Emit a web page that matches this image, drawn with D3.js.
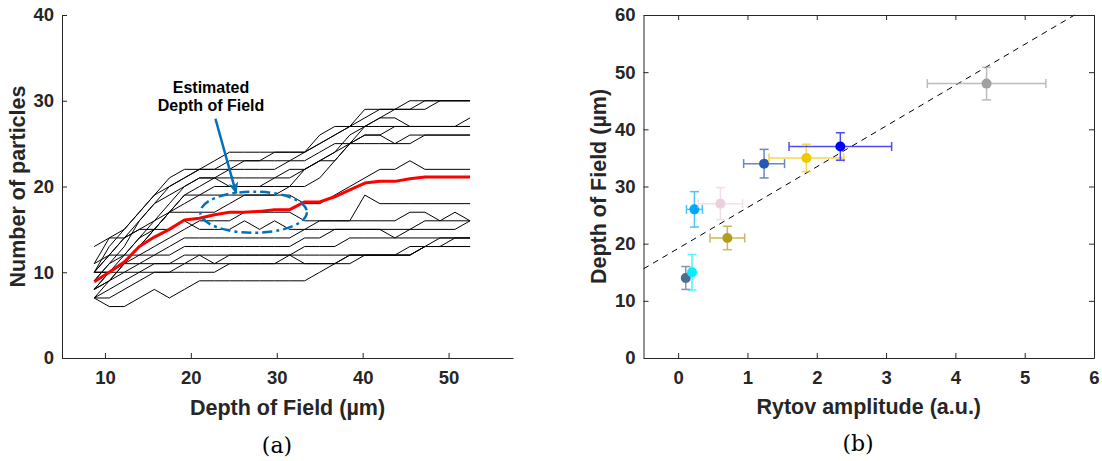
<html lang="en">
<head>
    <meta charset="UTF-8">
    <title>Depth of field vs Rytov amplitude</title>
    <style>
        body { margin: 0; background: #fff; }
        text { font-family: "Liberation Sans", Arial, sans-serif; }
    </style>
</head>
<body>
<script src="https://d3js.org/d3.v7.min.js"></script>
<svg id="fig"></svg>
<script>
    // ---- data, panel (a) ----
    var dofSteps = [8.75, 10.5, 12.25, 14, 15.75, 17.5, 19.25, 21, 22.75, 24.5, 26.25, 28, 29.75,
                    31.5, 33.25, 35, 36.75, 38.5, 40.25, 42, 43.75, 45.5, 47.25, 49, 50.75, 52.5];
    var particleCounts = [
        [11,14,15,17,19,20,21,22,23,24,24,24,24,24,24,25,26,27,29,29,29,29,30,30,30,30],
        [10,12,14,16,18,20,21,22,22,23,23,23,24,24,24,25,26,27,28,29,29,30,30,30,30,30],
        [10,13,15,17,19,21,22,22,22,22,22,22,22,23,24,26,27,27,27,28,29,29,29,30,30,30],
        [9,11,13,16,18,19,20,21,21,22,23,23,23,23,23,24,25,25,27,28,28,27,27,27,27,28],
        [10,12,14,15,16,17,19,20,21,21,21,21,21,21,22,23,24,26,27,27,27,27,27,27,27,27],
        [8,10,12,14,16,18,20,21,21,20,20,20,21,22,22,23,23,25,26,26,27,27,27,27,27,27],
        [8,10,11,13,15,17,19,19,20,20,20,20,20,20,22,23,24,25,26,26,25,26,26,26,26,26],
        [9,11,12,14,15,17,18,19,19,19,19,19,19,20,20,21,23,25,25,25,25,25,26,26,26,26],
        [8,9,11,13,15,17,17,17,17,18,19,19,19,19,18,18,19,20,21,22,22,23,22,22,22,22],
        [7,9,11,12,13,14,15,16,16,16,17,17,17,17,16,16,16,16,19,18,18,18,18,18,18,18],
        [13,14,14,15,15,15,16,15,15,15,16,15,16,15,15,16,16,16,16,16,16,17,17,16,17,16],
        [10,10,11,11,12,13,14,14,14,14,14,14,14,14,15,15,15,15,15,15,15,15,16,16,16,16],
        [11,12,12,12,12,12,13,13,13,13,13,13,13,13,14,14,15,15,15,15,14,15,15,15,15,16],
        [8,9,10,11,11,11,12,12,12,12,12,12,12,12,13,13,13,14,14,14,14,14,14,14,14,14],
        [10,10,10,10,10,10,11,11,11,11,11,11,11,12,12,12,12,12,12,12,12,13,13,14,14,14],
        [7,8,9,10,11,11,11,12,11,12,12,12,12,12,11,11,11,12,12,12,12,12,13,13,14,14],
        [7,7,8,9,10,10,10,10,10,11,11,11,11,11,11,11,11,11,12,12,12,12,13,13,13,13],
        [7,6,6,7,8,7,8,9,9,9,9,9,9,9,9,10,11,12,12,12,12,12,13,13,13,13]
    ];
    var meanCounts = [8.9, 10, 11.2, 13, 14.1, 15, 16.1, 16.3, 16.7, 17, 17, 17.1, 17.3,
                      17.3, 18.2, 18.2, 18.8, 19.6, 20.4, 20.6, 20.6, 20.9, 21.1, 21.1, 21.1, 21.1];
    var ticksA_x = [10, 20, 30, 40, 50];
    var ticksA_y = [0, 10, 20, 30, 40];

    // ---- data, panel (b) ----
    var rytovAmp = [0.11, 0.2, 0.235, 0.61, 0.71, 1.24, 1.85, 2.34, 4.45];
    var rytovErr = [0.03, 0.03, 0.115, 0.32, 0.25, 0.295, 0.54, 0.74, 0.855];
    var dofValue = [14, 15, 26, 27, 21, 34, 35, 37, 48];
    var dofErr = [2, 3.1, 3.1, 2.8, 2.05, 2.5, 2.4, 2.4, 2.85];
    var pointColors = ["#4a6f91", "#00f0ff", "#00a8ff", "#eecfe0", "#b39b1d",
                       "#2757b4", "#efc800", "#0000ff", "#a0a0a0"];
    var fitX = [-0.5, 5.72];
    var fitY = [15.6, 60];
    var ticksB_x = [0, 1, 2, 3, 4, 5, 6];
    var ticksB_y = [0, 10, 20, 30, 40, 50, 60];

    var axisColor = "#262626";
    var svg = d3.select("#fig")
        .attr("width", 1102)
        .attr("height", 461);
    svg.append("rect").attr("width", 1102).attr("height", 461).attr("fill", "#fff");

    function styleAxis(g) {
        g.select(".domain").attr("stroke", axisColor);
        g.selectAll(".tick line").attr("stroke", axisColor);
        g.selectAll(".tick text")
            .attr("fill", axisColor)
            .style("font-size", "18.5px")
            .style("font-weight", "bold");
    }

    // ================= panel (a) =================
    var a = {left: 62, right: 513, top: 15, bottom: 358};
    var xA = d3.scaleLinear().domain([5, 57.5]).range([a.left, a.right]);
    var yA = d3.scaleLinear().domain([0, 40]).range([a.bottom, a.top]);

    var panelA = svg.append("g");

    var line = d3.line()
        .x(function(d, i) { return xA(dofSteps[i]); })
        .y(function(d) { return yA(d); });

    panelA.append("g")
        .selectAll("path")
        .data(particleCounts)
        .enter().append("path")
            .attr("d", line)
            .attr("fill", "none")
            .attr("stroke", "#000")
            .attr("stroke-width", 1);

    panelA.append("path")
        .attr("d", line(meanCounts))
        .attr("fill", "none")
        .attr("stroke", "#ff0000")
        .attr("stroke-width", 3)
        .attr("stroke-linejoin", "round");

    // annotation: ellipse + arrow + text
    var blue = "#0072bd";
    panelA.append("ellipse")
        .attr("cx", xA(27.3))
        .attr("cy", yA(17))
        .attr("rx", xA(27.3 + 6.2) - xA(27.3))
        .attr("ry", yA(17) - yA(17 + 2.4))
        .attr("fill", "none")
        .attr("stroke", blue)
        .attr("stroke-width", 2.5)
        .attr("stroke-dasharray", "10,4,3,4");

    svg.append("defs").append("marker")
        .attr("id", "head")
        .attr("markerUnits", "userSpaceOnUse")
        .attr("viewBox", "0 0 12 10")
        .attr("refX", 11).attr("refY", 5)
        .attr("markerWidth", 12).attr("markerHeight", 10)
        .attr("orient", "auto")
        .append("path")
            .attr("d", "M0,0 L12,5 L0,10 L3,5 Z")
            .attr("fill", blue);

    panelA.append("line")
        .attr("x1", xA(22.86)).attr("y1", yA(27.9))
        .attr("x2", xA(25.28)).attr("y2", yA(19.2))
        .attr("stroke", blue)
        .attr("stroke-width", 2.5)
        .attr("marker-end", "url(#head)");

    panelA.append("text")
        .attr("x", 211).attr("y", 87)
        .attr("dy", "0.35em")
        .attr("text-anchor", "middle")
        .style("font-size", "16px").style("font-weight", "bold")
        .text("Estimated");
    panelA.append("text")
        .attr("x", 211).attr("y", 105)
        .attr("dy", "0.35em")
        .attr("text-anchor", "middle")
        .style("font-size", "16px").style("font-weight", "bold")
        .text("Depth of Field");

    // axes (only left + bottom, ticks pointing inward)
    panelA.append("g")
        .attr("transform", `translate(0, ${a.bottom})`)
        .call(d3.axisBottom(xA).tickValues(ticksA_x).tickSizeInner(-5).tickSizeOuter(0).tickPadding(13))
        .call(styleAxis);
    panelA.append("g")
        .attr("transform", `translate(${a.left}, 0)`)
        .call(d3.axisLeft(yA).tickValues(ticksA_y).tickSizeInner(-5).tickSizeOuter(0).tickPadding(8))
        .call(styleAxis);

    panelA.append("text")
        .attr("x", (a.left + a.right) / 2).attr("y", 407)
        .attr("dy", "0.35em")
        .attr("text-anchor", "middle")
        .attr("fill", axisColor)
        .style("font-size", "21.5px").style("font-weight", "bold")
        .text("Depth of Field (µm)");
    panelA.append("text")
        .attr("transform", `translate(17, ${(a.top + a.bottom) / 2}) rotate(-90)`)
        .attr("dy", "0.35em")
        .attr("text-anchor", "middle")
        .attr("fill", axisColor)
        .style("font-size", "21.5px").style("font-weight", "bold")
        .text("Number of particles");

    // ================= panel (b) =================
    var b = {left: 643.5, right: 1094, top: 15, bottom: 358};
    var xB = d3.scaleLinear().domain([-0.5, 6]).range([b.left, b.right]);
    var yB = d3.scaleLinear().domain([0, 60]).range([b.bottom, b.top]);

    var panelB = svg.append("g");

    panelB.append("path")
        .attr("d", d3.line().x(function(d, i) { return xB(fitX[i]); }).y(function(d) { return yB(d); })(fitY))
        .attr("fill", "none")
        .attr("stroke", "#000")
        .attr("stroke-width", 1)
        .attr("stroke-dasharray", "6,5");

    var cap = 4.5;
    var pts = panelB.selectAll("g.pt")
        .data(rytovAmp)
        .enter().append("g")
            .attr("class", "pt");

    pts.each(function(d, i) {
        var g = d3.select(this);
        var cx = xB(d), cy = yB(dofValue[i]);
        var x0 = xB(d - rytovErr[i]), x1 = xB(d + rytovErr[i]);
        var y0 = yB(dofValue[i] - dofErr[i]), y1 = yB(dofValue[i] + dofErr[i]);
        var eb = g.append("g")
            .attr("stroke", pointColors[i])
            .attr("stroke-width", 1.5)
            .attr("opacity", 0.7);
        eb.append("line").attr("x1", x0).attr("x2", x1).attr("y1", cy).attr("y2", cy);
        eb.append("line").attr("x1", x0).attr("x2", x0).attr("y1", cy - cap).attr("y2", cy + cap);
        eb.append("line").attr("x1", x1).attr("x2", x1).attr("y1", cy - cap).attr("y2", cy + cap);
        eb.append("line").attr("x1", cx).attr("x2", cx).attr("y1", y0).attr("y2", y1);
        eb.append("line").attr("x1", cx - cap).attr("x2", cx + cap).attr("y1", y0).attr("y2", y0);
        eb.append("line").attr("x1", cx - cap).attr("x2", cx + cap).attr("y1", y1).attr("y2", y1);
        g.append("circle")
            .attr("cx", cx).attr("cy", cy)
            .attr("r", 5)
            .attr("fill", pointColors[i]);
    });

    // box axes with inward ticks on all sides
    panelB.append("g")
        .attr("transform", `translate(0, ${b.bottom})`)
        .call(d3.axisBottom(xB).tickValues(ticksB_x).tickFormat(d3.format("d"))
            .tickSizeInner(-5).tickSizeOuter(0).tickPadding(13))
        .call(styleAxis);
    panelB.append("g")
        .attr("transform", `translate(0, ${b.top})`)
        .call(d3.axisTop(xB).tickValues(ticksB_x).tickSizeInner(-5).tickSizeOuter(0).tickFormat(""))
        .call(styleAxis);
    panelB.append("g")
        .attr("transform", `translate(${b.left}, 0)`)
        .call(d3.axisLeft(yB).tickValues(ticksB_y).tickSizeInner(-5).tickSizeOuter(0).tickPadding(8))
        .call(styleAxis);
    panelB.append("g")
        .attr("transform", `translate(${b.right}, 0)`)
        .call(d3.axisRight(yB).tickValues(ticksB_y).tickSizeInner(-5).tickSizeOuter(0).tickFormat(""))
        .call(styleAxis);

    panelB.append("text")
        .attr("x", (b.left + b.right) / 2).attr("y", 406)
        .attr("dy", "0.35em")
        .attr("text-anchor", "middle")
        .attr("fill", axisColor)
        .style("font-size", "21.5px").style("font-weight", "bold")
        .text("Rytov amplitude (a.u.)");
    panelB.append("text")
        .attr("transform", `translate(598, ${(b.top + b.bottom) / 2}) rotate(-90)`)
        .attr("dy", "0.35em")
        .attr("text-anchor", "middle")
        .attr("fill", axisColor)
        .style("font-size", "21.5px").style("font-weight", "bold")
        .text("Depth of Field (µm)");

    // captions
    svg.append("text")
        .attr("x", 277).attr("y", 445)
        .attr("dy", "0.35em")
        .attr("text-anchor", "middle")
        .style("font-family", "'DejaVu Serif', 'Liberation Serif', serif")
        .style("font-size", "22px")
        .text("(a)");
    svg.append("text")
        .attr("x", 858).attr("y", 443)
        .attr("dy", "0.35em")
        .attr("text-anchor", "middle")
        .style("font-family", "'DejaVu Serif', 'Liberation Serif', serif")
        .style("font-size", "22px")
        .text("(b)");
</script>
</body>
</html>
